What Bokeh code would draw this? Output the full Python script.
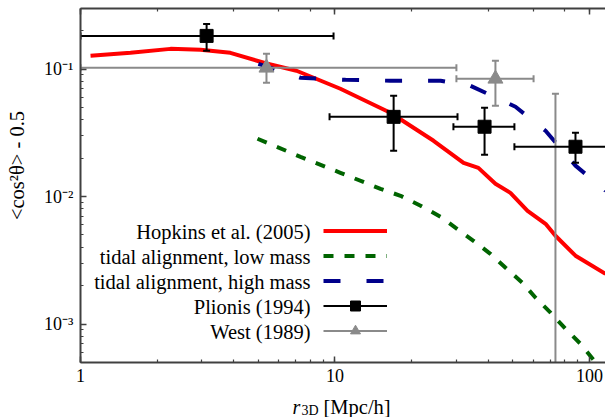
import math
from bokeh.plotting import figure
from bokeh.layouts import row, column
from bokeh.core.properties import value
from bokeh.models import (LogAxis, LogTicker, CustomJSTickFormatter, Label, Legend,
                          LegendItem, Range1d)
from bokeh.embed import file_html
from bokeh.resources import INLINE

# ---- data -------------------------------------------------------------
# Hopkins et al. (2005)
hop_x = [1.095, 1.572, 2.258, 2.962, 3.88, 5.43, 7.06, 10.5, 16.5, 24.4, 32.0, 36.6,
         42.7, 48.9, 57.1, 67.2, 73.5, 88.1, 115.6]
hop_y = [0.127, 0.134, 0.144, 0.142, 0.134, 0.110, 0.0970, 0.0701, 0.0454, 0.0274,
         0.0184, 0.0168, 0.0126, 0.0107, 0.00774, 0.00612, 0.00493, 0.00344, 0.00248]

# tidal alignment, low mass
low_x = [4.96, 7.32, 10.5, 15.1, 18.1, 21.7, 26.0, 29.8, 35.0, 40.8, 46.8, 54.5, 61.4,
         70.3, 80.5, 92.2, 103.7, 115.6]
low_y = [0.0284, 0.0205, 0.01537, 0.0115, 0.01014, 0.00847, 0.00695, 0.00569, 0.0045,
         0.00356, 0.00277, 0.00211, 0.00161, 0.00123, 0.000919, 0.0007, 0.000525, 0.000394]

# tidal alignment, high mass
high_x = [5.0, 7.32, 11.0, 16.5, 26.0, 34.1, 51.2, 67.2, 88.1, 115.6]
high_y = [0.110, 0.0855, 0.0824, 0.081, 0.081, 0.0739, 0.0506, 0.0328, 0.0175, 0.0111]

# Plionis (1994)
pl_x = [3.13, 17.0, 38.7, 88.1]
pl_y = [0.182, 0.0422, 0.0353, 0.0246]
pl_xlo = [1.0, 9.52, 29.2, 50.7]
pl_xhi = [9.87, 30.3, 50.7, 150.0]
pl_ylo = [0.139, 0.0229, 0.0213, 0.0184]
pl_yhi = [0.226, 0.0618, 0.0497, 0.0316]

# West (1989)
we_x = [5.38, 42.7, 73.5]
we_y = [0.1024, 0.0839, 0.0003]
we_xlo = [1.0, 30.0, 73.5]
we_xhi = [30.0, 60.3, 73.5]
we_ylo = [0.078, 0.0515, 0.00001]
we_yhi = [0.1318, 0.116, 0.064]

legend_labels = ["Hopkins et al. (2005)", "tidal alignment, low mass",
                 "tidal alignment, high mass", "Plionis (1994)", "West (1989)"]
y_title = "<cos\u00b2\u03b8> - 0.5"

# ---- styling ----------------------------------------------------------
FONT = "Liberation Serif"
AX = "#404040"
RED = "#ff0000"
GREEN = "#006400"
BLUE = "#00008b"
GREY = "#8a8a8a"
BLACK = "#000000"

YLAB_W = 32          # width of the strip holding the y title
MAIN_H = 388         # height of the main figure
XLAB_H = 417 - MAIN_H
FRAME_L = 80 - YLAB_W


def style_blank(f):
    f.axis.visible = False
    f.grid.visible = False
    f.outline_line_color = None
    f.background_fill_color = "white"
    f.border_fill_color = "white"
    return f


fig = figure(width=605 - YLAB_W, height=MAIN_H, x_axis_type="log", y_axis_type="log",
             x_range=Range1d(1, 115.6), y_range=Range1d(5e-4, 0.2985),
             output_backend="svg", toolbar_location=None,
             min_border_left=FRAME_L, min_border_right=0, min_border_top=8,
             min_border_bottom=MAIN_H - 362)
fig.grid.visible = False
fig.outline_line_color = None
fig.background_fill_color = "white"
fig.border_fill_color = "white"

bottom = fig.xaxis[0]
left = fig.yaxis[0]

bottom.formatter = CustomJSTickFormatter(code="return tick.toFixed(0);")
left.formatter = CustomJSTickFormatter(code="""
const m = {'-':'\u207b','0':'\u2070','1':'\u00b9','2':'\u00b2','3':'\u00b3','4':'\u2074',
           '5':'\u2075','6':'\u2076','7':'\u2077','8':'\u2078','9':'\u2079'};
const e = Math.round(Math.log10(tick));
return '10' + String(e).split('').map(c => m[c]).join('');
""")

top = LogAxis(ticker=LogTicker(), major_label_text_font_size="0px",
              major_label_standoff=0,
              formatter=CustomJSTickFormatter(code="return '';"))
fig.add_layout(top, "above")

for ax in [bottom, left, top]:
    ax.axis_line_color = AX
    ax.axis_line_width = 2
    ax.major_tick_in = 6
    ax.major_tick_out = 0
    ax.minor_tick_in = 3
    ax.minor_tick_out = 0
    ax.major_tick_line_color = AX
    ax.minor_tick_line_color = AX
    ax.major_tick_line_width = 1.5
    ax.minor_tick_line_width = 1.2
for ax in [bottom, left]:
    ax.major_label_text_font = FONT
    ax.major_label_text_font_size = "18px"
    ax.major_label_text_color = BLACK
bottom.major_label_standoff = 6
left.major_label_standoff = 7

# ---- curves -----------------------------------------------------------
r_hop = fig.line(hop_x, hop_y, line_color=RED, line_width=4, line_join="round")
r_low = fig.line(low_x, low_y, line_color=GREEN, line_width=4, line_dash="10 11")
r_high = fig.line(high_x, high_y, line_color=BLUE, line_width=4, line_dash="17 26")


# ---- error bars -------------------------------------------------------
def errorbars(x, y, xlo, xhi, ylo, yhi, color, marker, size):
    fig.segment(x0=x, y0=ylo, x1=x, y1=yhi, line_color=color, line_width=2)
    h = fig.segment(x0=xlo, y0=y, x1=xhi, y1=y, line_color=color, line_width=2)
    fig.scatter(x=x + x, y=ylo + yhi, marker="dash", size=7, line_color=color,
                line_width=2)
    fig.scatter(x=xlo + xhi, y=y + y, marker="dash", angle=math.pi / 2, size=7,
                line_color=color, line_width=2)
    m = fig.scatter(x=x, y=y, marker=marker, size=size, fill_color=color,
                    line_color=color)
    return h, m


we_h, we_m = errorbars(we_x, we_y, we_xlo, we_xhi, we_ylo, we_yhi, GREY, "triangle", 15)
pl_h, pl_m = errorbars(pl_x, pl_y, pl_xlo, pl_xhi, pl_ylo, pl_yhi, BLACK, "square", 13)

# ---- legend (glyphs) --------------------------------------------------
legend = Legend(items=[
    LegendItem(label=" ", renderers=[r_hop]),
    LegendItem(label=" ", renderers=[r_low]),
    LegendItem(label=" ", renderers=[r_high]),
    LegendItem(label=" ", renderers=[pl_h, pl_m]),
    LegendItem(label=" ", renderers=[we_h, we_m]),
], location=(243, 19), glyph_width=64, glyph_height=25, label_height=25,
    label_width=0, label_standoff=0, spacing=0, padding=0, margin=0,
    border_line_color=None, background_fill_alpha=0, label_text_font_size="1px")
fig.add_layout(legend)

# legend texts (right aligned, left of the glyphs)
row_y = [131, 106, 81, 56, 31]
for txt, yy in zip(legend_labels, row_y):
    fig.add_layout(Label(x=230, y=yy, x_units="screen", y_units="screen", text=txt,
                         text_align="right", text_baseline="middle", text_font=FONT,
                         text_font_size="20.5px", text_color=BLACK))

# ---- y title strip (coordinates = page pixels) ------------------------
ylab = style_blank(figure(width=YLAB_W, height=417, x_range=Range1d(0, YLAB_W),
                          y_range=Range1d(0, 417), output_backend="svg",
                          toolbar_location=None, min_border=0))
ylab.text(x=[16], y=[417 - 165], text=[y_title], angle=math.pi / 2,
          text_align="center", text_baseline="middle", text_font=value(FONT),
          text_font_size=value("20.5px"), text_color=BLACK)

# ---- x title strip: frame aligned with the main frame (page x 80..605) -
xlab = style_blank(figure(width=605 - YLAB_W, height=XLAB_H, x_range=Range1d(80, 605),
                          y_range=Range1d(0, XLAB_H), output_backend="svg",
                          toolbar_location=None, min_border_left=FRAME_L,
                          min_border_right=0, min_border_top=0, min_border_bottom=0))
xlab.text(x=[292], y=[417 - 406], text=["r"], text_align="left",
          text_baseline="alphabetic", text_font=value(FONT), text_font_style="italic",
          text_font_size=value("20px"), text_color=BLACK)
xlab.text(x=[301], y=[417 - 410], text=["3D"], text_align="left",
          text_baseline="alphabetic", text_font=value(FONT),
          text_font_size=value("14px"), text_color=BLACK)
xlab.text(x=[323], y=[417 - 406], text=["[Mpc/h]"], text_align="left",
          text_baseline="alphabetic", text_font=value(FONT),
          text_font_size=value("20.5px"), text_color=BLACK)

p = row(ylab, column(fig, xlab, spacing=0), spacing=0)

open("out.html", "w").write(file_html(p, INLINE))
